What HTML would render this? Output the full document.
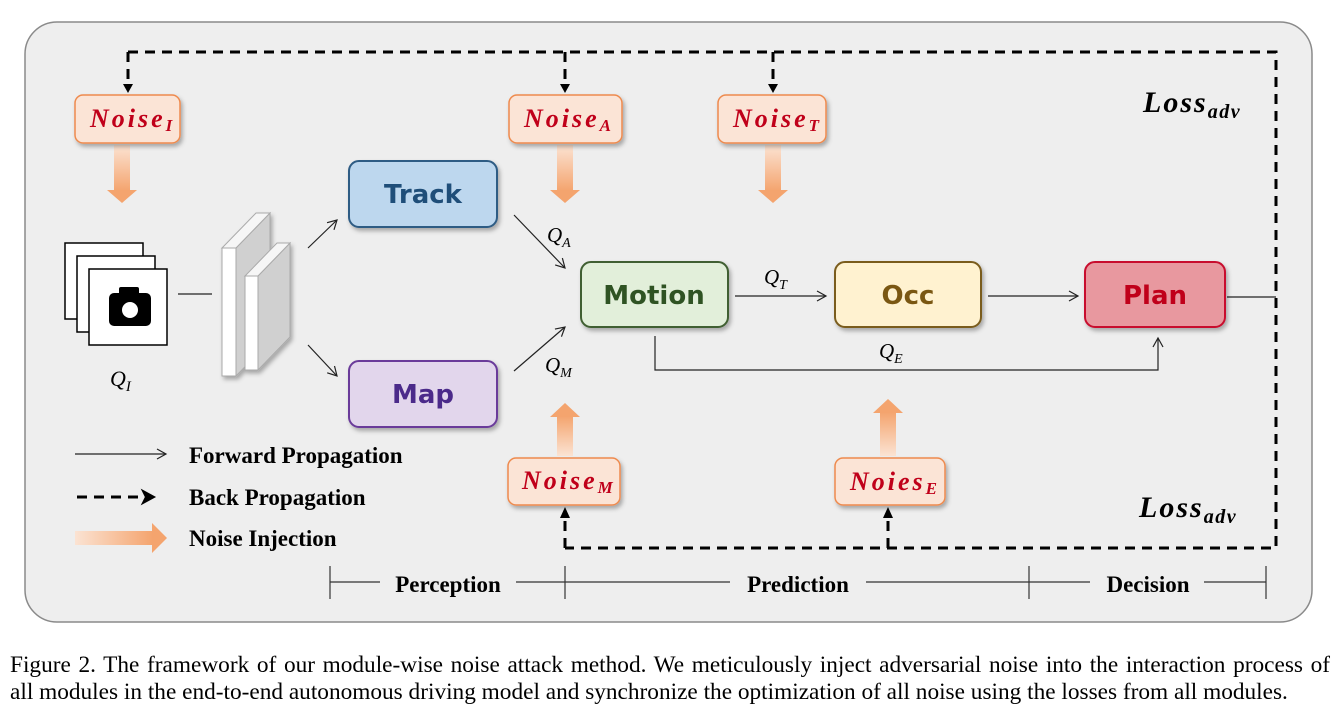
<!DOCTYPE html>
<html><head><meta charset="utf-8"><style>
html,body{margin:0;padding:0;background:#fff;}
body{width:1340px;height:716px;overflow:hidden;position:relative;}
svg{position:absolute;left:0;top:0;}
.cap{position:absolute;left:10px;width:1320px;font-family:"Liberation Serif",serif;font-size:23.3px;line-height:27px;color:#000;white-space:nowrap;}
.l1{top:652px;text-align:justify;text-align-last:justify;}
.l2{top:679px;}
</style></head><body>
<svg width="1340" height="716" viewBox="0 0 1340 716" xmlns="http://www.w3.org/2000/svg">
<defs>
<linearGradient id="gv" x1="0" y1="0" x2="0" y2="1"><stop offset="0" stop-color="#fbe3d3"/><stop offset="1" stop-color="#f4a46e"/></linearGradient>
<linearGradient id="gu" x1="0" y1="1" x2="0" y2="0"><stop offset="0" stop-color="#fbe3d3"/><stop offset="1" stop-color="#f4a46e"/></linearGradient>
<linearGradient id="gh" x1="0" y1="0" x2="1" y2="0"><stop offset="0" stop-color="#fbe3d3"/><stop offset="1" stop-color="#f4a46e"/></linearGradient>
<filter id="sh" x="-10%" y="-10%" width="130%" height="140%"><feDropShadow dx="2" dy="3" stdDeviation="2" flood-color="#000" flood-opacity="0.3"/></filter>
<marker id="oa" markerWidth="12" markerHeight="12" refX="10" refY="6" orient="auto" markerUnits="userSpaceOnUse"><path d="M1,1 L10,6 L1,11" fill="none" stroke="#222" stroke-width="1.2"/></marker>
</defs>
<rect x="25" y="22" width="1287" height="600" rx="32" fill="#eeeeee" stroke="#8a8a8a" stroke-width="1.5"/>

<g stroke="#000" stroke-width="3" fill="none" stroke-dasharray="10,7">
<path d="M128,52 H1276 V548 H565"/>
<path d="M128,52 V82"/><path d="M565,52 V82"/><path d="M773,52 V82"/>
<path d="M565,548 V520"/><path d="M888,548 V520"/>
</g>
<g fill="#000">
<path d="M123,84 L133,84 L128,93 Z"/><path d="M560,84 L570,84 L565,93 Z"/><path d="M768,84 L778,84 L773,93 Z"/>
<path d="M560,518 L570,518 L565,507 Z"/><path d="M883,518 L893,518 L888,507 Z"/>
</g>

<g>
<rect x="114" y="145" width="16" height="46" fill="url(#gv)"/><path d="M107,190 L137,190 L122,203 Z" fill="#f4a46e"/>
<rect x="557" y="145" width="16" height="46" fill="url(#gv)"/><path d="M550,190 L580,190 L565,203 Z" fill="#f4a46e"/>
<rect x="765" y="145" width="16" height="46" fill="url(#gv)"/><path d="M758,190 L788,190 L773,203 Z" fill="#f4a46e"/>
<rect x="557" y="416" width="16" height="40" fill="url(#gu)"/><path d="M550,417 L580,417 L565,403 Z" fill="#f4a46e"/>
<rect x="880" y="412" width="16" height="44" fill="url(#gu)"/><path d="M873,413 L903,413 L888,399 Z" fill="#f4a46e"/>
</g>

<g filter="url(#sh)">
<rect x="75" y="95" width="105" height="48" rx="8" fill="#fbe4d6" stroke="#ee8a4e" stroke-width="1.5"/>
<rect x="509" y="95" width="113" height="48" rx="8" fill="#fbe4d6" stroke="#ee8a4e" stroke-width="1.5"/>
<rect x="718" y="95" width="108" height="48" rx="8" fill="#fbe4d6" stroke="#ee8a4e" stroke-width="1.5"/>
<rect x="508" y="458" width="112" height="47" rx="8" fill="#fbe4d6" stroke="#ee8a4e" stroke-width="1.5"/>
<rect x="835" y="458" width="110" height="47" rx="8" fill="#fbe4d6" stroke="#ee8a4e" stroke-width="1.5"/>
</g>
<g font-family="Liberation Serif,serif" font-weight="bold" font-style="italic" fill="#c0001a" font-size="26" letter-spacing="3">
<text x="90" y="127">Noise<tspan font-size="17" dy="4" letter-spacing="0">I</tspan></text>
<text x="524" y="127">Noise<tspan font-size="17" dy="4" letter-spacing="0">A</tspan></text>
<text x="733" y="127">Noise<tspan font-size="17" dy="4" letter-spacing="0">T</tspan></text>
<text x="522" y="489">Noise<tspan font-size="17" dy="4" letter-spacing="0">M</tspan></text>
<text x="850" y="490">Noies<tspan font-size="17" dy="4" letter-spacing="0">E</tspan></text>
</g>

<rect x="65" y="243" width="78" height="76" fill="#fff" stroke="#000" stroke-width="1.5"/>
<rect x="77" y="256" width="78" height="76" fill="#fff" stroke="#000" stroke-width="1.5"/>
<rect x="89" y="269" width="78" height="76" fill="#fff" stroke="#000" stroke-width="1.5"/>
<rect x="109" y="293" width="42" height="33" rx="5" fill="#000"/>
<rect x="119" y="287" width="20" height="8" rx="2" fill="#000"/>
<circle cx="130" cy="310" r="8" fill="#fff"/>
<text x="110" y="386" font-family="Liberation Serif,serif" font-style="italic" font-size="22">Q<tspan font-size="15" dy="5">I</tspan></text>
<line x1="178" y1="294" x2="212" y2="294" stroke="#222" stroke-width="1.3"/>

<g filter="url(#sh)">
<path d="M236,248 L270,213 L270,341 L236,376 Z" fill="#d0d0d0" stroke="#aaa"/>
<path d="M222,248 L256,213 L270,213 L236,248 Z" fill="#f6f6f6" stroke="#aaa"/>
<rect x="222" y="248" width="14" height="128" fill="#fff" stroke="#aaa"/>
<path d="M258,276 L290,243 L290,337 L258,370 Z" fill="#d0d0d0" stroke="#aaa"/>
<path d="M245,276 L277,243 L290,243 L258,276 Z" fill="#f6f6f6" stroke="#aaa"/>
<rect x="245" y="276" width="13" height="94" fill="#fff" stroke="#aaa"/>
</g>

<g stroke="#222" stroke-width="1.2" fill="none" marker-end="url(#oa)">
<line x1="308" y1="248" x2="337" y2="220"/>
<line x1="308" y1="345" x2="337" y2="376"/>
<line x1="514" y1="215" x2="565" y2="268"/>
<line x1="514" y1="371" x2="565" y2="327"/>
<line x1="735" y1="296" x2="826" y2="296"/>
<line x1="988" y1="296" x2="1078" y2="296"/>
<path d="M655,336 V370 H1158 V338"/>
</g>
<line x1="1227" y1="297" x2="1276" y2="297" stroke="#222" stroke-width="1.3"/>

<g filter="url(#sh)" stroke-width="2">
<rect x="349" y="161" width="148" height="66" rx="10" fill="#bdd7ee" stroke="#2e5b84"/>
<rect x="349" y="361" width="148" height="66" rx="10" fill="#e2d6ec" stroke="#6a3a9a"/>
<rect x="581" y="262" width="147" height="65" rx="10" fill="#e2efda" stroke="#3f5f30"/>
<rect x="835" y="262" width="146" height="65" rx="10" fill="#fff2d0" stroke="#7a5c1e"/>
<rect x="1085" y="262" width="140" height="65" rx="10" fill="#e8989f" stroke="#c8102e"/>
</g>
<g font-family="DejaVu Sans,Liberation Sans,sans-serif" font-weight="bold" font-size="26" text-anchor="middle">
<text x="423" y="203" fill="#1f4e79">Track</text>
<text x="423" y="403" fill="#4b2a8a">Map</text>
<text x="654" y="304" fill="#2f5323">Motion</text>
<text x="908" y="304" fill="#7a5712">Occ</text>
<text x="1155" y="304" fill="#c0001a">Plan</text>
</g>

<g font-family="Liberation Serif,serif" font-style="italic" font-size="21">
<text x="547" y="242">Q<tspan font-size="14" dy="5">A</tspan></text>
<text x="545" y="372">Q<tspan font-size="14" dy="5">M</tspan></text>
<text x="764" y="284">Q<tspan font-size="14" dy="5">T</tspan></text>
<text x="879" y="358">Q<tspan font-size="14" dy="5">E</tspan></text>
</g>

<g font-family="Liberation Serif,serif" font-weight="bold" font-style="italic" font-size="30" letter-spacing="2">
<text x="1143" y="112">Loss<tspan font-size="20" dy="6" letter-spacing="1.5">adv</tspan></text>
<text x="1139" y="517">Loss<tspan font-size="20" dy="6" letter-spacing="1.5">adv</tspan></text>
</g>

<line x1="75" y1="454" x2="166" y2="454" stroke="#222" stroke-width="1.2" marker-end="url(#oa)"/>
<line x1="77" y1="497" x2="145" y2="497" stroke="#000" stroke-width="3" stroke-dasharray="10,7"/>
<path d="M143,491 L154,497 L143,503 L146,497 Z" fill="#000" stroke="#000" stroke-width="2"/>
<rect x="75" y="531" width="78" height="14" fill="url(#gh)"/>
<path d="M152,523 L167,538 L152,553 Z" fill="#f4a46e"/>
<g font-family="Liberation Serif,serif" font-weight="bold" font-size="23">
<text x="189" y="463">Forward Propagation</text>
<text x="189" y="505">Back Propagation</text>
<text x="189" y="546">Noise Injection</text>
</g>

<g stroke="#333" stroke-width="1.2">
<line x1="330" y1="566" x2="330" y2="599"/><line x1="565" y1="566" x2="565" y2="599"/>
<line x1="1029" y1="566" x2="1029" y2="599"/><line x1="1266" y1="566" x2="1266" y2="599"/>
<line x1="330" y1="582" x2="380" y2="582"/><line x1="516" y1="582" x2="730" y2="582"/>
<line x1="866" y1="582" x2="1090" y2="582"/><line x1="1204" y1="582" x2="1266" y2="582"/>
</g>
<g font-family="Liberation Serif,serif" font-weight="bold" font-size="23" text-anchor="middle">
<text x="448" y="592">Perception</text>
<text x="798" y="592">Prediction</text>
<text x="1148" y="592">Decision</text>
</g>
</svg>
<div class="cap l1">Figure 2. The framework of our module-wise noise attack method. We meticulously inject adversarial noise into the interaction process of</div>
<div class="cap l2">all modules in the end-to-end autonomous driving model and synchronize the optimization of all noise using the losses from all modules.</div>
</body></html>
